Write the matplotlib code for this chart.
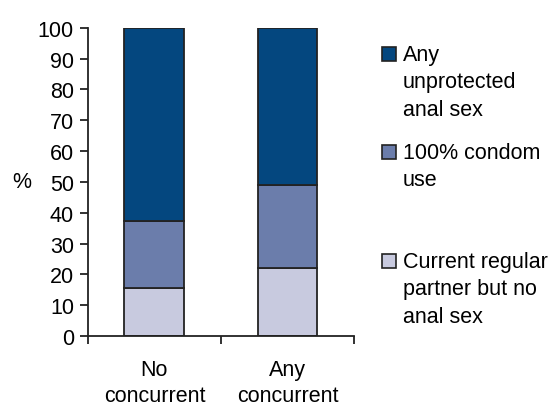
import matplotlib.pyplot as plt
import numpy as np
from matplotlib.patches import Rectangle

plt.rcParams['font.family'] = ['Liberation Sans', 'DejaVu Sans']

categories = ["No\nconcurrent", "Any\nconcurrent"]
regular_no_anal = [15.5, 22.0]
condom_100 = [21.8, 27.1]
unprotected = [62.7, 50.9]

series_labels = ["Any\nunprotected\nanal sex", "100% condom\nuse", "Current regular\npartner but no\nanal sex"]
colors = ["#04477f", "#6b7dab", "#c8cadf"]
edge = "#222222"
fs = 15.5

fig = plt.figure(figsize=(5.49, 4.06), dpi=100)
ax = fig.add_axes([0.160, 0.170, 0.485, 0.759])

x = np.arange(len(categories))
w = 0.45
ax.bar(x, regular_no_anal, w, color=colors[2], edgecolor=edge, linewidth=1.3)
ax.bar(x, condom_100, w, bottom=regular_no_anal, color=colors[1], edgecolor=edge, linewidth=1.3)
bottom2 = np.array(regular_no_anal) + np.array(condom_100)
ax.bar(x, unprotected, w, bottom=bottom2, color=colors[0], edgecolor=edge, linewidth=1.3)

ax.set_xlim(-0.5, 1.5)
ax.set_ylim(0, 100)
ax.set_yticks(range(0, 101, 10))
ax.tick_params(axis='y', direction='out', length=6, width=1.3, color=edge, labelsize=fs, pad=4)
# category labels, ticks only at the boundaries
ax.set_xticks([-0.5, 0.5, 1.5])
ax.set_xticklabels([])
ax.tick_params(axis='x', direction='out', length=6, width=1.3, color=edge)
for xi, lab in zip(x, categories):
    ax.text(xi, -7.5, lab, ha='center', va='top', fontsize=fs, linespacing=1.3)

for s in ['top', 'right']:
    ax.spines[s].set_visible(False)
for s in ['left', 'bottom']:
    ax.spines[s].set_color(edge)
    ax.spines[s].set_linewidth(1.3)

fig.text(22 / 549, 1 - 183 / 406, "%", ha='center', va='center', fontsize=fs)

# legend drawn by hand to match the uneven spacing
first_line_y = [55, 153, 262]
for lab, col, yl in zip(series_labels, colors, first_line_y):
    fig.patches.append(Rectangle((382 / 549, 1 - (yl + 7) / 406), 14 / 549, 14 / 406,
                                 transform=fig.transFigure, facecolor=col,
                                 edgecolor=edge, linewidth=1.2))
    fig.text(403 / 549, 1 - (yl - 10) / 406, lab, ha='left', va='top',
             fontsize=fs, linespacing=1.4)

fig.savefig("out.png", dpi=100)
